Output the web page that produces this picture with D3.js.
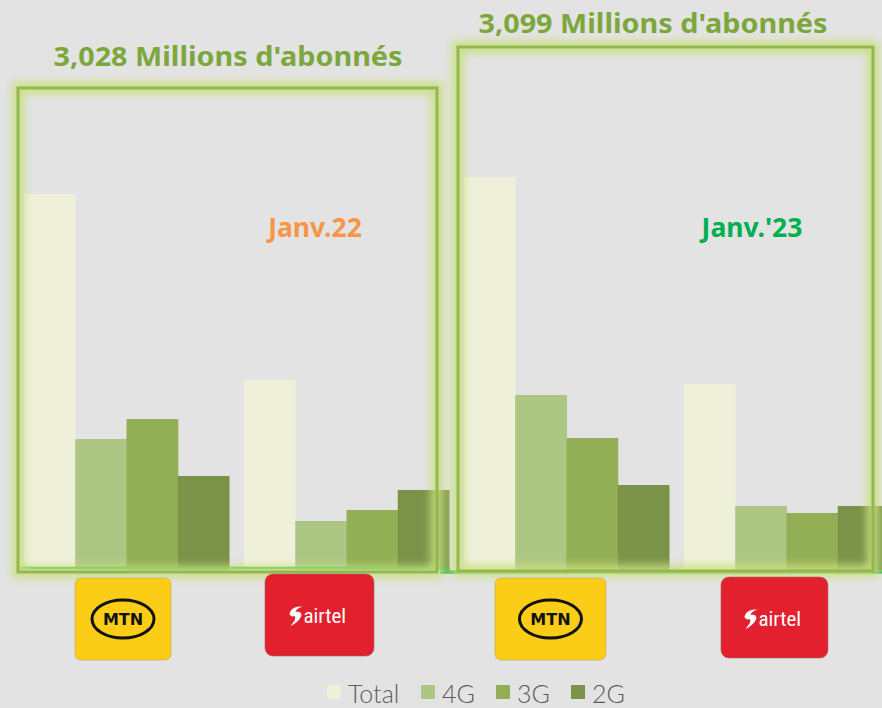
<!DOCTYPE html>
<html>
<head>
<meta charset="utf-8">
<script src="https://cdn.jsdelivr.net/npm/d3@7"></script>
<style>
  body { margin: 0; background: #e3e3e3; }
  svg { display: block; }
</style>
</head>
<body>
<div id="chart"></div>
<script>
// Data
const series = ['Total', '4G', '3G', '2G'];
const operators = ['MTN', 'airtel'];
const periods = ['Janv.22', "Janv.'23"];
const totals = ["3,028 Millions d'abonnés", "3,099 Millions d'abonnés"];
const mtn2022 = [376, 131, 151, 94];
const airtel2022 = [190, 49, 60, 80];
const mtn2023 = [393, 175, 132, 85];
const airtel2023 = [186, 64, 57, 64];

const colors = ['#eef0da', '#adc684', '#93af55', '#7b9349'];

const groups = [
    { key: 'MTN 22', op: 'MTN', panel: 0, values: mtn2022 },
    { key: 'airtel 22', op: 'airtel', panel: 0, values: airtel2022 },
    { key: 'MTN 23', op: 'MTN', panel: 1, values: mtn2023 },
    { key: 'airtel 23', op: 'airtel', panel: 1, values: airtel2023 }
];

const width = 882, height = 708;
const baseline = 570;

const svg = d3.select('#chart').append('svg')
    .attr('width', width)
    .attr('height', height);

svg.append('rect').attr('width', width).attr('height', height).attr('fill', '#e3e3e3');

const defs = svg.append('defs');
defs.append('filter')
    .attr('id', 'glow')
    .attr('x', '-10%').attr('y', '-10%')
    .attr('width', '120%').attr('height', '120%')
    .append('feGaussianBlur')
    .attr('stdDeviation', 4);

// Scales
const x0 = d3.scaleBand()
    .domain(groups.map(d => d.key))
    .range([24, 889])
    .paddingInner(0.068)
    .paddingOuter(0);

const x1 = d3.scaleBand()
    .domain(series)
    .range([0, x0.bandwidth()])
    .padding(0);

const y = d3.scaleLinear()
    .domain([0, 400])
    .range([baseline, baseline - 400]);

const color = d3.scaleOrdinal().domain(series).range(colors);

// Bars
const g = svg.selectAll('.group')
    .data(groups)
    .enter()
    .append('g')
    .attr('class', 'group')
    .attr('transform', d => `translate(${x0(d.key)},0)`);

g.selectAll('rect')
    .data(d => d.values.map((v, i) => ({ s: series[i], v })))
    .enter()
    .append('rect')
    .attr('x', d => x1(d.s))
    .attr('y', d => y(d.v))
    .attr('width', x1.bandwidth() + 0.5)
    .attr('height', d => y(0) - y(d.v))
    .attr('fill', d => color(d.s));

// Baselines (bright green)
svg.append('line')
    .attr('x1', 20).attr('x2', 450)
    .attr('y1', baseline - 2).attr('y2', baseline - 2)
    .attr('stroke', '#3dbb48').attr('stroke-width', 2.5);
svg.append('line')
    .attr('x1', 440).attr('x2', width)
    .attr('y1', baseline + 2).attr('y2', baseline + 2)
    .attr('stroke', '#3dbb48').attr('stroke-width', 3.5);

// Glowing frames
const frames = [
    { x: x0('MTN 22') - 6, y: 88, w: 419, h: 484 },
    { x: x0('MTN 23') - 6, y: 47, w: 415, h: 524 }
];

frames.forEach(f => {
    svg.append('rect')
        .attr('x', f.x).attr('y', f.y)
        .attr('width', f.w).attr('height', f.h)
        .attr('fill', 'none')
        .attr('stroke', '#c9e07e')
        .attr('stroke-opacity', 0.9)
        .attr('stroke-width', 12)
        .attr('filter', 'url(#glow)');
    svg.append('rect')
        .attr('x', f.x).attr('y', f.y)
        .attr('width', f.w).attr('height', f.h)
        .attr('fill', 'none')
        .attr('stroke', '#93b84f')
        .attr('stroke-width', 3);
});

// Titles
const titleX = [228, 653];
const titleY = [66, 33];
svg.selectAll('.title')
    .data(totals)
    .enter()
    .append('text')
    .attr('class', 'title')
    .attr('x', (d, i) => titleX[i])
    .attr('y', (d, i) => titleY[i])
    .attr('text-anchor', 'middle')
    .attr('textLength', 349)
    .attr('lengthAdjust', 'spacingAndGlyphs')
    .style('font-family', '"Noto Sans", sans-serif')
    .style('font-weight', 'bold')
    .style('font-size', '27px')
    .attr('fill', '#7ca73c')
    .text(d => d);

// Period labels
const periodX = [315, 752];
const periodColor = ['#f79646', '#00b050'];
svg.selectAll('.period')
    .data(periods)
    .enter()
    .append('text')
    .attr('class', 'period')
    .attr('x', (d, i) => periodX[i])
    .attr('y', 237)
    .attr('text-anchor', 'middle')
    .style('font-family', '"Noto Sans", sans-serif')
    .style('font-weight', 'bold')
    .style('font-size', '26.5px')
    .attr('fill', (d, i) => periodColor[i])
    .text(d => d);

// Logos (offset from each group's band start)
const logoOffset = [51, 21, 31, 37];
const logoWidth = [96, 109, 111, 107];
const logoTop = [578, 574, 578, 577];
const logoHeight = [82, 82, 82, 81];

groups.forEach((d, i) => {
    const w = logoWidth[i], h = logoHeight[i];
    const lg = svg.append('g')
        .attr('transform', `translate(${x0(d.key) + logoOffset[i]},${logoTop[i]})`);
    if (d.op === 'MTN') {
        lg.append('rect')
            .attr('width', w).attr('height', h).attr('rx', 6)
            .attr('fill', '#fbcd16')
            .attr('stroke', '#b8a765').attr('stroke-width', 0.6);
        lg.append('ellipse')
            .attr('cx', w / 2).attr('cy', h / 2)
            .attr('rx', 31).attr('ry', 19)
            .attr('fill', 'none')
            .attr('stroke', '#111').attr('stroke-width', 3);
        lg.append('text')
            .attr('x', w / 2).attr('y', h / 2 + 6)
            .attr('text-anchor', 'middle')
            .style('font-family', '"DejaVu Sans", sans-serif')
            .style('font-weight', 'bold')
            .style('font-size', '16px')
            .attr('fill', '#111')
            .text('MTN');
    } else {
        lg.append('rect')
            .attr('width', w).attr('height', h).attr('rx', 8)
            .attr('fill', '#e3202e')
            .attr('stroke', '#a46a6a').attr('stroke-width', 0.6);
        // swoosh
        const sx = w / 2 - 30;
        lg.append('path')
            .attr('transform', `translate(${sx},0)`)
            .attr('d', 'M0,40 C1,34 8,31 14,33 C10,33 7,35 6,38 C9,37 12,38 12,41 C11,46 5,50 1,52 C5,47 7,44 5,42 C3,43 1,42 0,40 Z')
            .attr('fill', '#fff');
        lg.append('text')
            .attr('x', sx + 14).attr('y', 49)
            .style('font-family', '"Liberation Sans Narrow", "Roboto Condensed", Roboto, sans-serif')
            .style('font-size', '21px')
            .attr('fill', '#fff')
            .text('airtel');
    }
});

// Legend
const legendX = [327, 421, 496, 571];
const legend = svg.selectAll('.legend')
    .data(series)
    .enter()
    .append('g')
    .attr('class', 'legend')
    .attr('transform', (d, i) => `translate(${legendX[i]},685)`);

legend.append('rect')
    .attr('width', 14).attr('height', 14)
    .attr('fill', d => color(d));

legend.append('text')
    .attr('x', 21).attr('y', 18)
    .style('font-family', 'Lato, "Noto Sans", sans-serif')
    .style('font-weight', 300)
    .style('font-size', '25px')
    .attr('fill', '#5a5a5a')
    .text(d => d);
</script>
</body>
</html>
